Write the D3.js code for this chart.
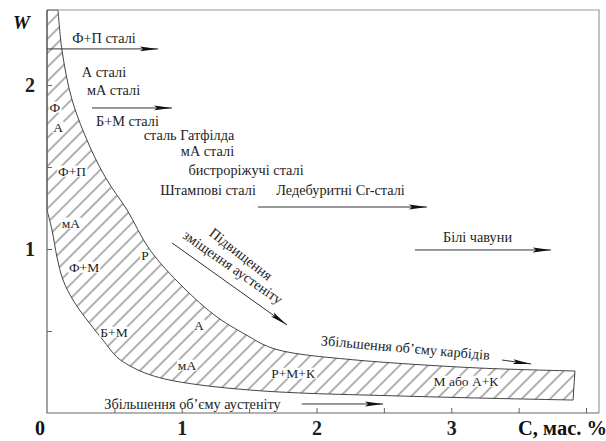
<!DOCTYPE html>
<html>
<head>
<meta charset="utf-8">
<script src="https://cdn.jsdelivr.net/npm/d3@7/dist/d3.min.js"></script>
<style>
  html, body { margin: 0; padding: 0; background: #fff; }
  svg { display: block; }
  text { font-family: "Liberation Serif", "Times New Roman", serif; fill: #1e1e1e; }
</style>
</head>
<body>
<svg id="chart" width="606" height="441"></svg>
<script>

var width = 606,
    height = 441;

/** boundaries of the hatched band, [C mass %, W] **/
var upperEdge = [
    [0.082, 2.457], [0.111, 2.213], [0.186, 1.909], [0.319, 1.622],
    [0.445, 1.421], [0.594, 1.238], [0.764, 0.994], [1.009, 0.768],
    [1.262, 0.585], [1.506, 0.463], [1.596, 0.421], [1.692, 0.390],
    [1.803, 0.369], [1.952, 0.351], [2.100, 0.338], [2.471, 0.311],
    [3.213, 0.274], [3.918, 0.256]
];
var lowerEdge = [
    [0.000, 1.238], [0.037, 1.116], [0.074, 0.951], [0.119, 0.811],
    [0.193, 0.689], [0.297, 0.567], [0.415, 0.445], [0.519, 0.341],
    [0.616, 0.287], [0.727, 0.244], [0.876, 0.207], [1.135, 0.171],
    [1.506, 0.140], [1.878, 0.122], [2.471, 0.107], [3.213, 0.091],
    [3.904, 0.079]
];

/** tick labels **/
var xTicks = [0.5, 1, 1.5, 2, 2.5, 3, 3.5, 4];
var xLabels = [1, 2, 3];
var yTicks = [0.5, 1, 1.5, 2];
var yLabels = [1, 2];

/** labels inside the hatched band: text, C, W **/
var bandLabels = [
    ["Ф", 0.059, 1.866], ["А", 0.082, 1.744], ["Ф+П", 0.186, 1.476],
    ["мА", 0.178, 1.159], ["Ф+М", 0.275, 0.890], ["Р", 0.727, 0.963],
    ["Б+М", 0.497, 0.494], ["А", 1.128, 0.537], ["мА", 1.039, 0.293],
    ["Р+М+К", 1.826, 0.244], ["М або А+К", 3.109, 0.195]
];

/** steel names: text, C, W (baseline centre) **/
var steelLabels = [
    ["Ф+П сталі", 0.423, 2.256], ["А сталі", 0.423, 2.049],
    ["мА сталі", 0.494, 1.939], ["Б+М сталі", 0.597, 1.750],
    ["сталь Гатфілда", 1.054, 1.665], ["мА сталі", 1.191, 1.567],
    ["бистроріжучі сталі", 1.477, 1.451], ["Штампові сталі", 1.195, 1.329],
    ["Ледебуритні Cr-сталі", 2.178, 1.329], ["Білі чавуни", 3.195, 1.043],
    ["Збільшення об’єму аустеніту", 1.080, 0.024]
];

/** rotated notes: text, C, W (centre), angle **/
var slantLabels = [
    ["Підвищення", 1.440, 0.970, 38],
    ["зміщення аустеніту", 1.380, 0.890, 35],
    ["Збільшення об’єму карбідів", 2.660, 0.399, 5]
];

/** arrows: [C0, W0, C1, W1] **/
var arrows = [
    [0.000, 2.220, 0.824, 2.220],
    [0.334, 1.860, 0.928, 1.860],
    [1.566, 1.256, 2.820, 1.256],
    [2.731, 0.994, 3.740, 0.994],
    [0.928, 1.037, 1.781, 0.537],
    [3.377, 0.323, 3.592, 0.299],
    [1.892, 0.055, 2.494, 0.055]
];

var x = d3.scaleLinear().domain([0, 4]).range([47, 586]);
var y = d3.scaleLinear().domain([0, 1]).range([413, 249]);

var xMax = x.invert(599),
    wMax = y.invert(10);

var svg = d3.select("#chart");
var defs = svg.append("defs");

// hatch pattern, lines running "/" at about 45 degrees
var hatch = defs.append("pattern")
    .attr("id", "hatch")
    .attr("patternUnits", "userSpaceOnUse")
    .attr("width", 10)
    .attr("height", 20)
    .attr("patternTransform", "rotate(45)");
hatch.append("line")
    .attr("x1", 1).attr("y1", 0)
    .attr("x2", 1).attr("y2", 20)
    .attr("stroke", "#3a3a3a")
    .attr("stroke-width", 0.8);

defs.append("marker")
    .attr("id", "head")
    .attr("markerUnits", "userSpaceOnUse")
    .attr("viewBox", "0 0 18 6")
    .attr("markerWidth", 18)
    .attr("markerHeight", 6)
    .attr("refX", 18)
    .attr("refY", 3)
    .attr("orient", "auto")
  .append("path")
    .attr("d", "M0,0.6 L18,3 L0,5.4 L3,3 Z")
    .attr("fill", "#111");

// hatched band
var curve = d3.line()
    .x(function(d){ return x(d[0]); })
    .y(function(d){ return y(d[1]); })
    .curve(d3.curveCatmullRom.alpha(0.5));

var lowerRev = lowerEdge.slice().reverse();
var bandPath = curve(upperEdge)
    + "L" + curve(lowerRev).slice(1)
    + "L" + x(0) + "," + y(wMax) + "Z";

svg.append("path")
    .attr("d", bandPath)
    .attr("fill", "url(#hatch)")
    .attr("stroke", "#444")
    .attr("stroke-width", 1);

// frame
svg.append("path")
    .attr("d", "M" + x(0) + "," + y(wMax) + "H" + x(xMax) + "V" + y(0))
    .attr("fill", "none")
    .attr("stroke", "#9a9a9a")
    .attr("stroke-width", 1.2);

svg.append("path")
    .attr("d", "M" + x(0) + "," + y(wMax) + "V" + y(0) + "H" + x(xMax))
    .attr("fill", "none")
    .attr("stroke", "#666")
    .attr("stroke-width", 1.2);

// axes, ticks pointing inward
var xAxis = svg.append("g")
    .attr("transform", "translate(0," + y(0) + ")")
    .call(d3.axisBottom(x)
        .tickValues(xTicks)
        .tickSizeInner(-5)
        .tickSizeOuter(0)
        .tickPadding(8)
        .tickFormat(function(d){ return xLabels.indexOf(d) >= 0 ? d : ""; }));

var yAxis = svg.append("g")
    .attr("transform", "translate(" + x(0) + ",0)")
    .call(d3.axisLeft(y)
        .tickValues(yTicks)
        .tickSizeInner(-5)
        .tickSizeOuter(0)
        .tickPadding(12)
        .tickFormat(function(d){ return yLabels.indexOf(d) >= 0 ? d : ""; }));

[xAxis, yAxis].forEach(function(g){
    g.select(".domain").remove();
    g.selectAll(".tick line").attr("stroke", "#666");
    g.selectAll(".tick text")
        .attr("fill", "#111")
        .style("font-family", "'Liberation Serif', serif")
        .style("font-weight", "bold")
        .style("font-size", "20px");
});

svg.append("text")
    .attr("x", x(0) - 7)
    .attr("y", 435)
    .attr("text-anchor", "middle")
    .style("font-weight", "bold")
    .style("font-size", "20px")
    .style("fill", "#111")
    .text("0");

svg.append("text")
    .attr("x", 518)
    .attr("y", 435)
    .style("font-weight", "bold")
    .style("font-size", "20.5px")
    .style("fill", "#111")
    .text("C, мас. %");

svg.append("text")
    .attr("x", 13)
    .attr("y", 29)
    .style("font-weight", "bold")
    .style("font-style", "italic")
    .style("font-size", "19px")
    .style("fill", "#111")
    .text("W");

// arrows
svg.selectAll(".arrow")
    .data(arrows)
    .enter().append("line")
    .attr("class", "arrow")
    .attr("x1", function(d){ return x(d[0]); })
    .attr("y1", function(d){ return y(d[1]); })
    .attr("x2", function(d){ return x(d[2]); })
    .attr("y2", function(d){ return y(d[3]); })
    .attr("stroke", "#333")
    .attr("stroke-width", 1)
    .attr("marker-end", "url(#head)");

// steel names
svg.selectAll(".steel")
    .data(steelLabels)
    .enter().append("text")
    .attr("class", "steel")
    .attr("x", function(d){ return x(d[1]); })
    .attr("y", function(d){ return y(d[2]); })
    .attr("text-anchor", "middle")
    .style("font-size", "14.3px")
    .text(function(d){ return d[0]; });

svg.selectAll(".slant")
    .data(slantLabels)
    .enter().append("text")
    .attr("class", "slant")
    .attr("transform", function(d){
        return "translate(" + x(d[1]) + "," + y(d[2]) + ") rotate(" + d[3] + ")";
    })
    .attr("text-anchor", "middle")
    .attr("dy", "0.35em")
    .style("font-size", "14.3px")
    .text(function(d){ return d[0]; });

// band labels with white backing
var bl = svg.selectAll(".band")
    .data(bandLabels)
    .enter().append("g")
    .attr("class", "band");

bl.append("rect").attr("fill", "#fff");
bl.append("text")
    .attr("x", function(d){ return x(d[1]); })
    .attr("y", function(d){ return y(d[2]); })
    .attr("text-anchor", "middle")
    .attr("dy", "0.35em")
    .style("font-size", "13.5px")
    .text(function(d){ return d[0]; });

bl.each(function(){
    var g = d3.select(this);
    var b = g.select("text").node().getBBox();
    g.select("rect")
        .attr("x", b.x - 1)
        .attr("y", b.y + 2)
        .attr("width", b.width + 2)
        .attr("height", b.height - 4);
});

</script>
</body>
</html>
